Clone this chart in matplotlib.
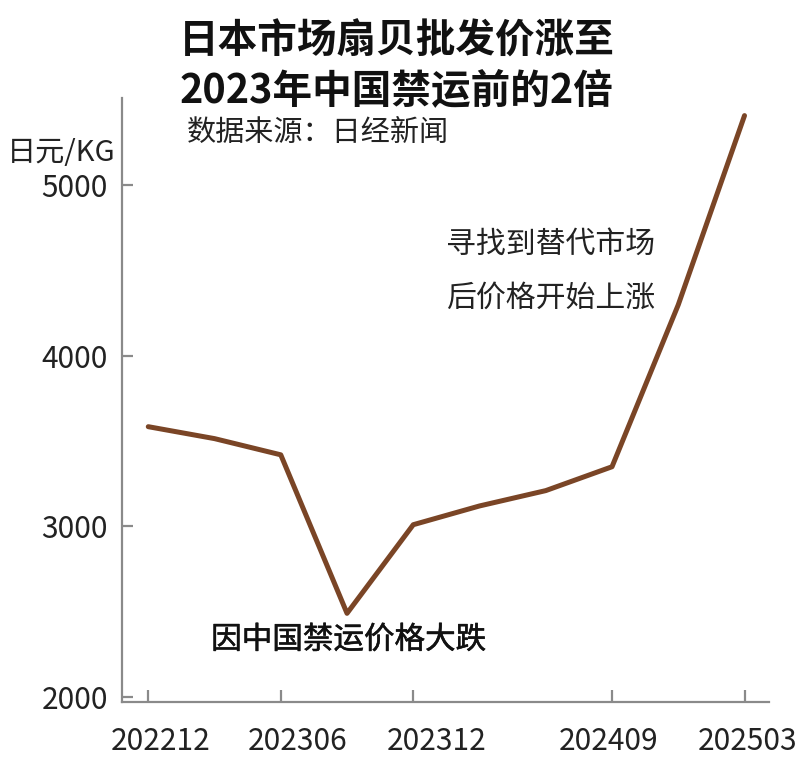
import matplotlib
matplotlib.use("Agg")
from matplotlib import pyplot as plt
from matplotlib import patheffects
from matplotlib.transforms import ScaledTranslation

plt.rcParams['font.family'] = ['Noto Sans CJK SC', 'DejaVu Sans']

# months counted from 2022-12
months = [0, 3, 6, 9, 12, 15, 18, 21, 24, 27]
prices = [3585, 3515, 3420, 2490, 3010, 3120, 3210, 3350, 4300, 5410]
tickMonths = [0, 6, 12, 21, 27]
tickLabels = ['202212', '202306', '202312', '202409', '202503']
yTicks = [2000, 3000, 4000, 5000]

fig = plt.figure(figsize=(8, 7.72), dpi=100)
ax = fig.add_axes([0.1525, 0.0907, 0.8085, 0.7823])

ax.plot(months, prices, color='#7a4526', linewidth=3.6, solid_joinstyle='round',
        solid_capstyle='round')

ax.set_xlim(-1.19, 28.1)
ax.set_ylim(1970, 5513)
ax.set_xticks(tickMonths)
ax.set_xticklabels(tickLabels)
ax.set_yticks(yTicks)

for side in ['top', 'right']:
    ax.spines[side].set_visible(False)
for side in ['left', 'bottom']:
    ax.spines[side].set_color('#8a8a8a')
    ax.spines[side].set_linewidth(1.6)

ax.tick_params(axis='x', direction='in', length=9, width=1.6, color='#8a8a8a',
               labelsize=21.5, pad=17, labelcolor='#222222')
ax.tick_params(axis='y', direction='in', length=8, width=1.6, color='#8a8a8a',
               labelsize=21.5, pad=10, labelcolor='#222222')

# the labels in the original are not centred under their ticks
shifts = [12, 17, 23, -3, 3]    # pixels
for lab, dx in zip(ax.get_xticklabels(), shifts):
    lab.set_transform(lab.get_transform() + ScaledTranslation(dx / 100, 0, fig.dpi_scale_trans))

# titles
fig.text(0.496, 0.947, '日本市场扇贝批发价涨至', ha='center', va='center',
         fontsize=28.5, fontweight='bold', color='#111111')
fig.text(0.496, 0.883, '2023年中国禁运前的2倍', ha='center', va='center',
         fontsize=28.5, fontweight='bold', color='#111111')
fig.text(0.233, 0.828, '数据来源：日经新闻', ha='left', va='center',
         fontsize=21, color='#222222')
fig.text(0.008, 0.802, '日元/KG', ha='left', va='center',
         fontsize=21, color='#222222')

# annotations
fig.text(0.558, 0.684, '寻找到替代市场', ha='left', va='center',
         fontsize=21.5, color='#222222')
fig.text(0.558, 0.614, '后价格开始上涨', ha='left', va='center',
         fontsize=21.5, color='#222222')
fig.text(0.264, 0.171, '因中国禁运价格大跌', ha='left', va='center',
         fontsize=22, color='#111111',
         path_effects=[patheffects.withStroke(linewidth=0.4, foreground='#111111')])

fig.savefig('out.png', dpi=100)
